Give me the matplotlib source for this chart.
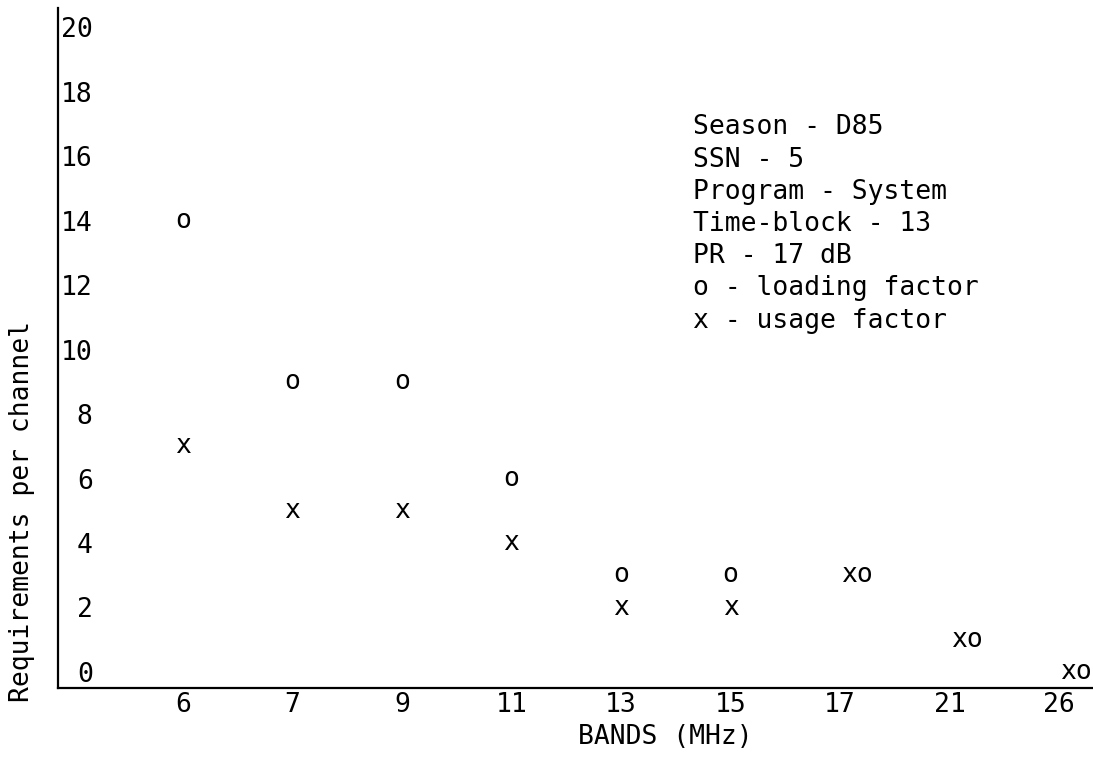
import matplotlib
matplotlib.use("Agg")
import matplotlib.pyplot as plt
import numpy as np

# ---- data ----
bands = ["6", "7", "9", "11", "13", "15", "17", "21", "26"]
loading_factor = [14, 9, 9, 6, 3, 3, 3, 1, 0]
usage_factor = [7, 5, 5, 4, 2, 2, 3, 1, 0]
y_ticks = [0, 2, 4, 6, 8, 10, 12, 14, 16, 18, 20]
info_lines = ["Season - D85", "SSN - 5", "Program - System", "Time-block - 13",
              "PR - 17 dB", "o - loading factor", "x - usage factor"]

FONT = "DejaVu Sans Mono"
FS = 19
plt.rcParams["font.family"] = FONT

W, H = 1093, 757
fig = plt.figure(figsize=(W / 100, H / 100), dpi=100)
ax = fig.add_axes([58 / W, (H - 688) / H, 1 - 58 / W, (688 - 8) / H])

xpos = np.arange(len(bands))
ax.set_xlim(-1.14, 8.31)
ax.set_ylim(-0.5, 20.6)

for s in ["top", "right"]:
    ax.spines[s].set_visible(False)
for s in ["left", "bottom"]:
    ax.spines[s].set_linewidth(1.6)
    ax.spines[s].set_color("black")

ax.set_xticks(xpos)
ax.set_xticklabels(bands, fontsize=FS)
ax.set_yticks(y_ticks)
ax.set_yticklabels([str(v) for v in y_ticks], fontsize=FS)
ax.tick_params(axis="both", length=0)
ax.tick_params(axis="x", pad=3)
ax.tick_params(axis="y", pad=-25)
for lab in ax.get_yticklabels():
    lab.set_horizontalalignment("right")

# half x-height offset (points) so the letter's body sits on the value
xoff = -0.545 * FS / 2
for xi, lf, uf in zip(xpos, loading_factor, usage_factor):
    if lf == uf:
        ax.annotate("xo", (xi, lf), xytext=(1, xoff), textcoords="offset points",
                    ha="left", va="baseline", fontsize=FS)
    else:
        ax.annotate("o", (xi, lf), xytext=(0, xoff), textcoords="offset points",
                    ha="center", va="baseline", fontsize=FS)
        ax.annotate("x", (xi, uf), xytext=(0, xoff), textcoords="offset points",
                    ha="center", va="baseline", fontsize=FS)

for i, line in enumerate(info_lines):
    ax.text(4.66, 16.68 - i, line, ha="left", va="baseline", fontsize=FS)

ax.set_xlabel("BANDS (MHz)", fontsize=FS)
ax.xaxis.set_label_coords((665 - 58) / (W - 58), (688 - 724) / 680)
ax.xaxis.label.set_verticalalignment("top")

fig.text(22 / W, 1 - 511 / H, "Requirements per channel", rotation=90,
         ha="center", va="center", fontsize=FS)

fig.savefig("out.png", dpi=100)
